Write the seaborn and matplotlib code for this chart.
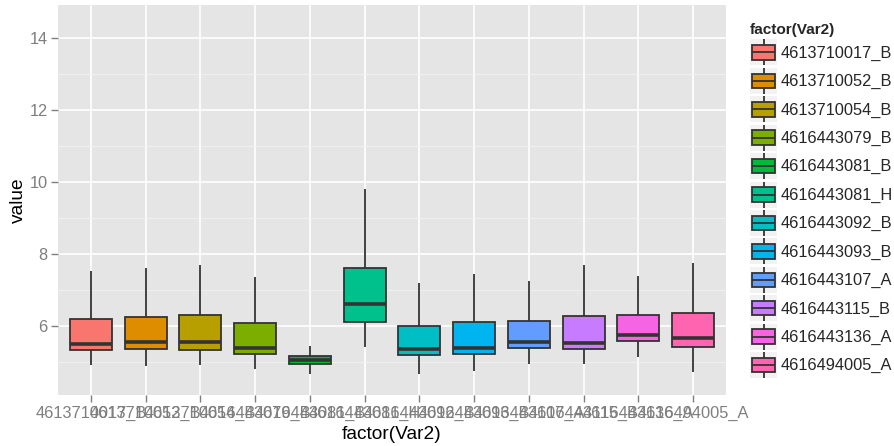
import numpy as np
import pandas as pd
import seaborn as sns
import matplotlib
matplotlib.use("Agg")
import matplotlib.pyplot as plt
from matplotlib.patches import Patch, Rectangle
from matplotlib.lines import Line2D
from matplotlib.legend_handler import HandlerBase
from matplotlib.ticker import MultipleLocator

# box statistics (whisker ends go to min / max)
categories = ["4613710017_B", "4613710052_B", "4613710054_B", "4616443079_B",
              "4616443081_B", "4616443081_H", "4616443092_B", "4616443093_B",
              "4616443107_A", "4616443115_B", "4616443136_A", "4616494005_A"]
whisker_low = [4.90, 4.88, 4.90, 4.80, 4.66, 5.41, 4.65, 4.75, 4.93, 4.94, 5.13, 4.73]
q1 = [5.32, 5.36, 5.34, 5.22, 4.95, 6.11, 5.20, 5.23, 5.38, 5.37, 5.59, 5.42]
median = [5.50, 5.55, 5.55, 5.40, 5.06, 6.61, 5.37, 5.40, 5.55, 5.53, 5.75, 5.67]
q3 = [6.20, 6.26, 6.29, 6.09, 5.16, 7.60, 5.99, 6.12, 6.14, 6.28, 6.30, 6.35]
whisker_high = [7.52, 7.60, 7.69, 7.36, 5.45, 9.80, 7.18, 7.43, 7.25, 7.68, 7.38, 7.74]

colors = ["#F8766D", "#DE8C00", "#B79F00", "#7CAE00", "#00BA38", "#00C08B",
          "#00BFC4", "#00B4F0", "#619CFF", "#C77CFF", "#F564E3", "#FF64B0"]

# five points per group reproduce the quartiles exactly
rows = []
for i, name in enumerate(categories):
    for v in (whisker_low[i], q1[i], median[i], q3[i], whisker_high[i]):
        rows.append({"Var2": name, "value": v})
df = pd.DataFrame(rows)

sns.set_style("white")
plt.rcParams["font.family"] = ["Liberation Sans", "DejaVu Sans"]

GREY_TXT = "#7F7F7F"
EDGE = "#333333"


class BoxKeyHandler(HandlerBase):
    """ggplot-like legend key: grey square, whisker, box, median."""

    def create_artists(self, legend, orig_handle, xdescent, ydescent,
                       width, height, fontsize, trans):
        x0, y0 = -xdescent, -ydescent
        face = orig_handle.get_facecolor()
        bg = Rectangle((x0, y0), width, height, facecolor="#F2F2F2",
                       edgecolor="none", transform=trans)
        xc = x0 + width / 2
        whisk = Line2D([xc, xc], [y0, y0 + height], color=EDGE, lw=1.3,
                       solid_capstyle="butt", transform=trans)
        box = Rectangle((x0 + 0.06 * width, y0 + 0.22 * height),
                        0.88 * width, 0.56 * height, facecolor=face,
                        edgecolor=EDGE, lw=1.3, transform=trans)
        med = Line2D([x0 + 0.06 * width, x0 + 0.94 * width],
                     [y0 + 0.5 * height] * 2, color=EDGE, lw=1.3,
                     solid_capstyle="butt", transform=trans)
        return [bg, whisk, box, med]


fig = plt.figure(figsize=(8.95, 4.46), dpi=100)
ax = fig.add_axes([58 / 895, 1 - 395 / 446, 668 / 895, 390 / 446])
ax.set_facecolor("#E5E5E5")

sns.boxplot(data=df, x="Var2", y="value", hue="Var2", order=categories,
            hue_order=categories, palette=colors, saturation=1, whis=(0, 100),
            width=0.77, showcaps=False, linecolor=EDGE, linewidth=1.3,
            medianprops={"linewidth": 2.6, "color": EDGE},
            legend=False, ax=ax)

ax.set_xlim(-0.6, 11.6)
ax.set_ylim(4.08, 14.92)
ax.yaxis.set_major_locator(MultipleLocator(2))
ax.yaxis.set_minor_locator(MultipleLocator(1))
ax.set_axisbelow(True)
ax.grid(True, which="major", color="white", lw=1.2)
ax.grid(True, which="minor", axis="y", color="#F2F2F2", lw=0.6)
for s in ax.spines.values():
    s.set_visible(False)

ax.tick_params(axis="both", which="major", direction="out", length=5,
               width=1.0, color=GREY_TXT, labelcolor=GREY_TXT,
               labelsize=11.8, pad=2.5, left=True, bottom=True)
ax.tick_params(axis="y", which="minor", length=0)
ax.set_xlabel("factor(Var2)", fontsize=13.8, color="black", labelpad=4)
ax.set_ylabel("value", fontsize=13.8, color="black", labelpad=1.5)

handles = [Patch(facecolor=c, label=n) for c, n in zip(colors, categories)]
leg = ax.legend(handles=handles, labels=categories, title="factor(Var2)",
                loc="upper left", bbox_to_anchor=(750 / 895, 1 - 23 / 446),
                bbox_transform=fig.transFigure, frameon=False, borderpad=0,
                borderaxespad=0, fontsize=11.8, handlelength=1.65,
                handleheight=2.06, labelspacing=0.15, handletextpad=0.22,
                title_fontproperties={"weight": "bold", "size": 11.1},
                alignment="left", handler_map={Patch: BoxKeyHandler()})

fig.savefig("out.png", dpi=100)
